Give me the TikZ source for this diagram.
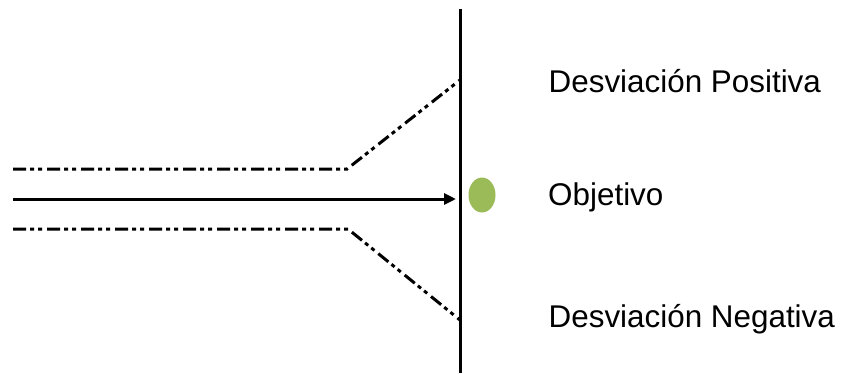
\documentclass[tikz,border=0pt]{standalone}
\usepackage{fontspec}
\setmainfont{Liberation Sans}
\usetikzlibrary{arrows.meta,shapes.geometric}
\definecolor{olivegreen}{HTML}{9BBB59}
\tikzset{
  dashdotdot/.style={line width=3pt, dash pattern=on 13pt off 4pt on 4pt off 4pt on 4pt off 5pt},
  solidline/.style={line width=3pt},
  label/.style={anchor=base west, inner sep=0pt, font=\fontsize{31.4}{36}\selectfont}
}
\begin{document}
\begin{tikzpicture}[x=1pt,y=-1pt]
\useasboundingbox (0,0) rectangle (842,373);
% vertical target line
\coordinate (vtop) at (460,9);
\coordinate (vbot) at (460,373);
\draw[solidline] (vtop) -- (vbot);
% upper boundary
\coordinate (u0) at (13,169);
\coordinate (u1) at (347,169);
\coordinate (u2) at (460,80);
\draw[dashdotdot] (u0) -- (u1) -- (u2);
% lower boundary
\coordinate (l0) at (13,229);
\coordinate (l1) at (348,229);
\coordinate (l2) at (460,320);
\draw[dashdotdot] (l0) -- (l1) -- (l2);
% arrow
\coordinate (a0) at (13,199);
\coordinate (a1) at (456,199);
\draw[solidline, -{Triangle[length=12pt,width=11pt]}] (a0) -- (a1);
% objective
\node[ellipse, fill=olivegreen, minimum width=27pt, minimum height=35pt, inner sep=0pt] (obj) at (482,195) {};
% labels
\node[label] (pos) at (548.5,92) {Desviación Positiva};
\node[label] (objt) at (548,205) {Objetivo};
\node[label] (neg) at (548.5,327) {Desviación Negativa};
\end{tikzpicture}
\end{document}
